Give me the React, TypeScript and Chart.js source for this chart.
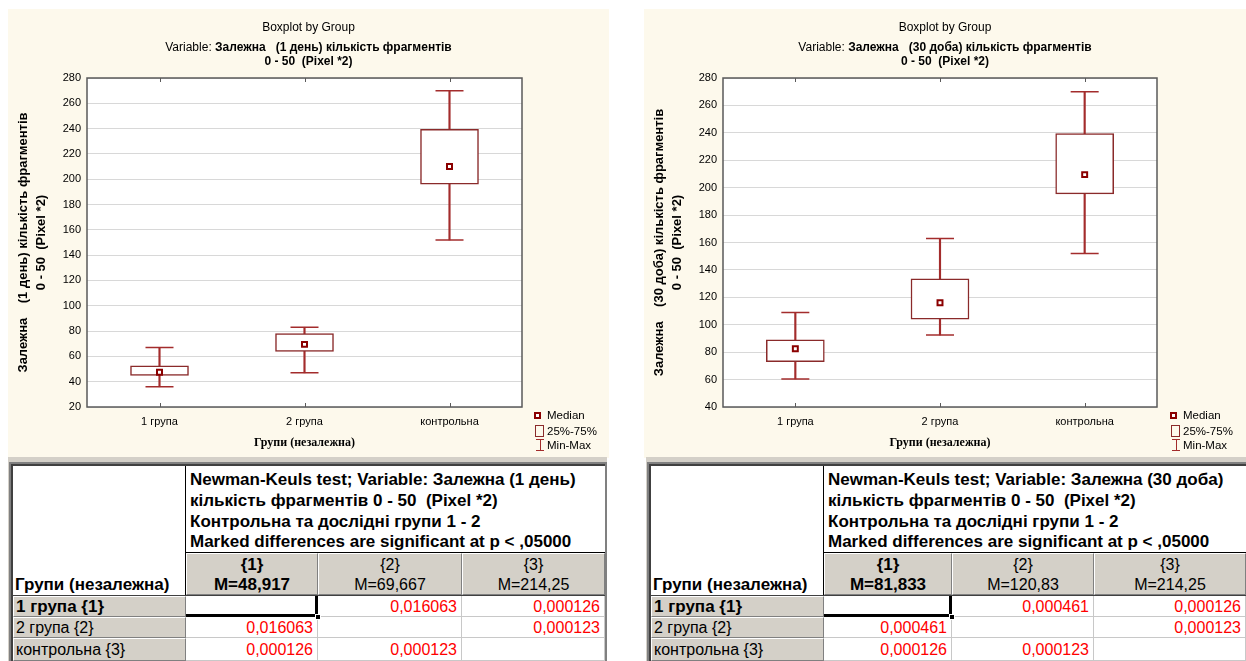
import React, { useEffect, useRef } from 'react';
import { Chart, registerables } from 'chart.js';

Chart.register(...registerables);

const SANS = '"Liberation Sans", Arial, Helvetica, sans-serif';
const SERIF = '"Liberation Serif", "Times New Roman", serif';

const BOX_COLOR = '#8a2a2a';
const WHISKER_COLOR = '#a32c2c';
const MEDIAN_COLOR = '#8b0000';
const PANEL_BG = '#fdf9ec';
const GRAY = '#d4d0c8';

// ---- chart data ----
const categories = ['1 група', '2 група', 'контрольна'];

const day1Min = [36, 47, 152];
const day1Q1 = [45, 64, 196];
const day1Median = [47.5, 69.5, 210];
const day1Q3 = [52.5, 78, 239.5];
const day1Max = [67, 83, 270];
const day1YTicks = [20, 40, 60, 80, 100, 120, 140, 160, 180, 200, 220, 240, 260, 280];
const day1YTitle = ['Залежна    (1 день) кількість фрагментів', '0 - 50  (Pixel *2)'];
const day1Variable = 'Залежна   (1 день) кількість фрагментів';

const day30Min = [60.5, 92.5, 152];
const day30Q1 = [73, 104, 195.5];
const day30Median = [82.5, 116, 209.5];
const day30Q3 = [89, 133.5, 239.5];
const day30Max = [109, 163, 270];
const day30YTicks = [40, 60, 80, 100, 120, 140, 160, 180, 200, 220, 240, 260, 280];
const day30YTitle = ['Залежна    (30 доба) кількість фрагментів', '0 - 50  (Pixel *2)'];
const day30Variable = 'Залежна   (30 доба) кількість фрагментів';

const xTitle = 'Групи (незалежна)';
const legendLabels = ['Median', '25%-75%', 'Min-Max'];

// ---- table data ----
const headerLabels = ['{1}', '{2}', '{3}'];
const rowLabels = ['1 група {1}', '2 група {2}', 'контрольна {3}'];
const day1TableTitle = [
  'Newman-Keuls test; Variable: Залежна (1 день)',
  'кількість фрагментів 0 - 50  (Pixel *2)',
  'Контрольна та дослідні групи 1 - 2',
  'Marked differences are significant at p < ,05000',
];
const day1Means = ['M=48,917', 'M=69,667', 'M=214,25'];
const day1PValues = [
  ['', '0,016063', '0,000126'],
  ['0,016063', '', '0,000123'],
  ['0,000126', '0,000123', ''],
];
const day30TableTitle = [
  'Newman-Keuls test; Variable: Залежна (30 доба)',
  'кількість фрагментів 0 - 50  (Pixel *2)',
  'Контрольна та дослідні групи 1 - 2',
  'Marked differences are significant at p < ,05000',
];
const day30Means = ['M=81,833', 'M=120,83', 'M=214,25'];
const day30PValues = [
  ['', '0,000461', '0,000126'],
  ['0,000461', '', '0,000123'],
  ['0,000126', '0,000123', ''],
];

type BoxProps = {
  min: number[];
  q1: number[];
  median: number[];
  q3: number[];
  max: number[];
  yTicks: number[];
  yTitle: string[];
  width: number;
  height: number;
  padRight: number;
};

function BoxPlotChart(p: BoxProps) {
  const ref = useRef<HTMLCanvasElement>(null);
  useEffect(() => {
    const canvas = ref.current as HTMLCanvasElement;
    const framePlugin = {
      id: 'frame',
      beforeDraw(chart: any) {
        const { ctx, chartArea: a } = chart;
        ctx.save();
        ctx.fillStyle = '#ffffff';
        ctx.fillRect(a.left, a.top, a.right - a.left, a.bottom - a.top);
        ctx.restore();
      },
      afterDraw(chart: any) {
        const { ctx, chartArea: a, scales } = chart;
        ctx.save();
        ctx.strokeStyle = '#5a5a5a';
        ctx.lineWidth = 1.5;
        ctx.strokeRect(a.left, a.top, a.right - a.left, a.bottom - a.top);
        ctx.lineWidth = 1;
        categories.forEach((_, i) => {
          const px = Math.round(scales.x.getPixelForValue(i)) + 0.5;
          ctx.beginPath();
          ctx.moveTo(px, a.top);
          ctx.lineTo(px, a.top + 4);
          ctx.moveTo(px, a.bottom);
          ctx.lineTo(px, a.bottom - 4);
          ctx.stroke();
        });
        ctx.restore();
      },
    };
    const capStyle = {
      type: 'line' as const,
      showLine: false,
      pointStyle: 'line',
      pointRadius: 14,
      pointHoverRadius: 14,
      pointBorderColor: WHISKER_COLOR,
      pointBorderWidth: 1.5,
      order: 2,
    };
    const chart = new Chart(canvas, {
      type: 'bar',
      data: {
        labels: categories,
        datasets: [
          {
            type: 'bar',
            label: 'Min-Max',
            data: p.min.map((v, i) => [v, p.max[i]]),
            backgroundColor: WHISKER_COLOR,
            borderWidth: 0,
            barThickness: 1.5,
            grouped: false,
            order: 4,
          } as any,
          {
            type: 'bar',
            label: '25%-75%',
            data: p.q1.map((v, i) => [v, p.q3[i]]),
            backgroundColor: '#ffffff',
            borderColor: BOX_COLOR,
            borderWidth: 1.5,
            borderSkipped: false,
            barThickness: 58,
            grouped: false,
            order: 3,
          } as any,
          { ...capStyle, label: 'Max', data: p.max } as any,
          { ...capStyle, label: 'Min', data: p.min } as any,
          {
            type: 'line',
            label: 'Median',
            data: p.median,
            showLine: false,
            pointStyle: 'rect',
            pointRadius: 3.5,
            pointHoverRadius: 3.5,
            pointBackgroundColor: '#ffffff',
            pointBorderColor: MEDIAN_COLOR,
            pointBorderWidth: 2,
            order: 1,
          } as any,
        ],
      },
      options: {
        responsive: false,
        animation: false,
        events: [],
        layout: { padding: { top: 69, right: p.padRight, bottom: 0, left: 0 } },
        plugins: {
          legend: { display: false },
          tooltip: { enabled: false },
          title: { display: false },
        },
        scales: {
          x: {
            type: 'category',
            offset: true,
            grid: { display: false, drawTicks: false },
            border: { display: false },
            ticks: { font: { family: SANS, size: 11 }, color: '#000', padding: 8, maxRotation: 0 },
            title: {
              display: true,
              text: xTitle,
              font: { family: SERIF, size: 12, weight: 'bold' },
              color: '#000',
              padding: { top: 0, bottom: 8 },
            },
            afterFit: (s: any) => {
              s.height = 51;
            },
          },
          y: {
            type: 'linear',
            min: p.yTicks[0],
            max: p.yTicks[p.yTicks.length - 1],
            afterBuildTicks: (s: any) => {
              s.ticks = p.yTicks.map((v) => ({ value: v }));
            },
            grid: { color: '#d8d8d8', lineWidth: 1, drawTicks: false },
            border: { display: false },
            ticks: { font: { family: SANS, size: 11 }, color: '#000', padding: 6 },
            title: {
              display: true,
              text: p.yTitle,
              font: { family: SANS, size: 13, weight: 'bold', lineHeight: 1.35 },
              color: '#000',
              padding: { top: 7, bottom: 0 },
            },
            afterFit: (s: any) => {
              s.width = 79;
            },
          },
        },
      } as any,
      plugins: [framePlugin],
    });
    return () => chart.destroy();
  }, []);
  return (
    <canvas
      ref={ref}
      width={p.width}
      height={p.height}
      style={{ display: 'block', position: 'absolute', left: 0, top: 0, width: p.width, height: p.height }}
    />
  );
}

function Txt(props: {
  x: number;
  cy: number;
  w?: number;
  align?: 'left' | 'right' | 'center';
  size: number;
  bold?: boolean;
  color?: string;
  family?: string;
  children: React.ReactNode;
}) {
  const align = props.align || 'left';
  const style: React.CSSProperties = {
    position: 'absolute',
    left: props.x,
    top: props.cy - 10,
    height: 20,
    lineHeight: '20px',
    whiteSpace: 'pre',
    fontFamily: props.family || SANS,
    fontSize: props.size,
    fontWeight: props.bold ? 'bold' : 'normal',
    color: props.color || '#000',
    textAlign: align,
  };
  if (props.w !== undefined) style.width = props.w;
  return <div style={style}>{props.children}</div>;
}

type PanelProps = {
  left: number;
  width: number;
  variable: string;
  children: React.ReactNode;
};

function ChartPanel(p: PanelProps) {
  const H = 449;
  return (
    <div style={{ position: 'absolute', left: p.left, top: 9, width: p.width, height: H, background: PANEL_BG }}>
      {p.children}
      <Txt x={0} w={p.width} cy={18} align="center" size={12}>
        Boxplot by Group
      </Txt>
      <Txt x={0} w={p.width} cy={38} align="center" size={12}>
        Variable: <b>{p.variable}</b>
      </Txt>
      <Txt x={0} w={p.width} cy={52} align="center" size={12} bold>
        {'0 - 50  (Pixel *2)'}
      </Txt>
      {/* legend */}
      <div
        style={{
          position: 'absolute',
          left: 526,
          top: 403,
          width: 7,
          height: 7,
          boxSizing: 'border-box',
          border: `2px solid ${MEDIAN_COLOR}`,
          background: '#fff',
        }}
      />
      <div
        style={{
          position: 'absolute',
          left: 527,
          top: 416,
          width: 9,
          height: 12,
          boxSizing: 'border-box',
          border: `1px solid ${BOX_COLOR}`,
        }}
      />
      <div style={{ position: 'absolute', left: 528, top: 430, width: 8, height: 1, background: WHISKER_COLOR }} />
      <div style={{ position: 'absolute', left: 531.5, top: 430, width: 1, height: 12, background: WHISKER_COLOR }} />
      <div style={{ position: 'absolute', left: 528, top: 441, width: 8, height: 1, background: WHISKER_COLOR }} />
      <Txt x={539} cy={406} size={11.5}>
        {legendLabels[0]}
      </Txt>
      <Txt x={539} cy={422} size={11.5}>
        {legendLabels[1]}
      </Txt>
      <Txt x={539} cy={435.5} size={11.5}>
        {legendLabels[2]}
      </Txt>
    </div>
  );
}

function Rect(props: { x: number; y: number; w: number; h: number; style?: React.CSSProperties }) {
  return (
    <div
      style={{
        position: 'absolute',
        left: props.x,
        top: props.y,
        width: props.w,
        height: props.h,
        boxSizing: 'border-box',
        ...(props.style || {}),
      }}
    />
  );
}

type TableProps = {
  cols: number[]; // content left, col1, col2, col3, right
  frameRight: number;
  title: string[];
  means: string[];
  pvals: string[][];
};

function StatTable(p: TableProps) {
  const [x0, x1, x2, x3, x4] = p.cols;
  const colX = [x1, x2, x3, x4];
  const top = 466;
  const titleBottom = 552;
  const headBottom = 595;
  const rowTops = [596, 617, 638];
  const rowBottoms = [617, 638, 661];
  const gray3d: React.CSSProperties = {
    background: GRAY,
    borderTop: '1px solid #ffffff',
    borderLeft: '1px solid #ffffff',
    borderRight: '1px solid #808080',
    borderBottom: '1px solid #808080',
  };
  const els: React.ReactNode[] = [];
  els.push(<Rect key="band" x={x0 - 5} y={457} w={p.frameRight - (x0 - 5)} h={204} style={{ background: GRAY }} />);
  els.push(<Rect key="f1" x={x0 - 4} y={462} w={p.frameRight - (x0 - 4)} h={199} style={{ background: '#808080' }} />);
  els.push(<Rect key="f2" x={x0 - 2} y={464} w={p.frameRight - 2 - (x0 - 2)} h={197} style={{ background: '#404040' }} />);
  els.push(<Rect key="content" x={x0} y={top} w={x4 - x0} h={661 - top} style={{ background: '#ffffff' }} />);
  const titleCenters = [480, 501, 522, 542];
  p.title.forEach((t, i) =>
    els.push(
      <Txt key={'t' + i} x={x1 + 4} cy={titleCenters[i]} size={17} bold>
        {t}
      </Txt>
    )
  );
  els.push(<Rect key="vline" x={x1 - 1} y={top} w={1} h={headBottom - top} style={{ background: '#000' }} />);
  els.push(<Rect key="hline" x={x1} y={titleBottom} w={x4 - x1} h={1} style={{ background: '#000' }} />);
  els.push(
    <Txt key="grp" x={x0 + 2} cy={585} size={17} bold>
      {xTitle}
    </Txt>
  );
  for (let j = 0; j < 3; j++) {
    const cx = colX[j];
    const cw = colX[j + 1] - cx;
    els.push(<Rect key={'h' + j} x={cx} y={titleBottom + 1} w={cw} h={headBottom - titleBottom - 1} style={gray3d} />);
    els.push(
      <Txt key={'hl' + j} x={cx} w={cw} cy={565} align="center" size={j === 0 ? 17 : 16} bold={j === 0}>
        {headerLabels[j]}
      </Txt>
    );
    els.push(
      <Txt key={'hm' + j} x={cx} w={cw} cy={585} align="center" size={j === 0 ? 17 : 16} bold={j === 0}>
        {p.means[j]}
      </Txt>
    );
  }
  els.push(<Rect key="hb" x={x0} y={headBottom} w={x4 - x0} h={1} style={{ background: '#404040' }} />);
  for (let i = 0; i < 3; i++) {
    const ry = rowTops[i];
    const rh = rowBottoms[i] - ry;
    els.push(<Rect key={'rh' + i} x={x0} y={ry} w={x1 - x0} h={rh} style={gray3d} />);
    els.push(
      <Txt key={'rl' + i} x={x0 + 3} cy={ry + rh / 2} size={i === 0 ? 17 : 16} bold={i === 0}>
        {rowLabels[i]}
      </Txt>
    );
    for (let j = 0; j < 3; j++) {
      const cx = colX[j];
      const cw = colX[j + 1] - cx;
      els.push(
        <Rect
          key={'c' + i + j}
          x={cx}
          y={ry}
          w={cw}
          h={rh}
          style={{ background: '#fff', borderRight: '1px solid #c8c8c8', borderBottom: '1px solid #c8c8c8' }}
        />
      );
      if (p.pvals[i][j]) {
        els.push(
          <Txt key={'v' + i + j} x={cx} w={cw - 5} cy={ry + rh / 2} align="right" size={16} color="#ff0000">
            {p.pvals[i][j]}
          </Txt>
        );
      }
    }
  }
  els.push(<Rect key="selb" x={x1} y={rowBottoms[0] - 3} w={x2 - x1} h={3} style={{ background: '#000' }} />);
  els.push(<Rect key="selr" x={x2 - 3} y={rowTops[0]} w={3} h={rowBottoms[0] - rowTops[0]} style={{ background: '#000' }} />);
  els.push(<Rect key="selh" x={x2 - 3} y={rowBottoms[0] - 3} w={6} h={6} style={{ background: '#000', border: '1px solid #fff' }} />);
  return <>{els}</>;
}

export default function App() {
  return (
    <div
      style={{
        position: 'absolute',
        left: 0,
        top: 0,
        width: 1246,
        height: 661,
        overflow: 'hidden',
        background: '#ffffff',
        fontFamily: SANS,
      }}
    >
      <ChartPanel left={8} width={601} variable={day1Variable}>
        <BoxPlotChart
          min={day1Min}
          q1={day1Q1}
          median={day1Median}
          q3={day1Q3}
          max={day1Max}
          yTicks={day1YTicks}
          yTitle={day1YTitle}
          width={601}
          height={449}
          padRight={87}
        />
      </ChartPanel>
      <ChartPanel left={644} width={602} variable={day30Variable}>
        <BoxPlotChart
          min={day30Min}
          q1={day30Q1}
          median={day30Median}
          q3={day30Q3}
          max={day30Max}
          yTicks={day30YTicks}
          yTitle={day30YTitle}
          width={602}
          height={449}
          padRight={89}
        />
      </ChartPanel>
      <StatTable cols={[13, 186, 318, 462, 605]} frameRight={607} title={day1TableTitle} means={day1Means} pvals={day1PValues} />
      <StatTable cols={[651, 824, 952, 1094, 1246]} frameRight={1248} title={day30TableTitle} means={day30Means} pvals={day30PValues} />
    </div>
  );
}
